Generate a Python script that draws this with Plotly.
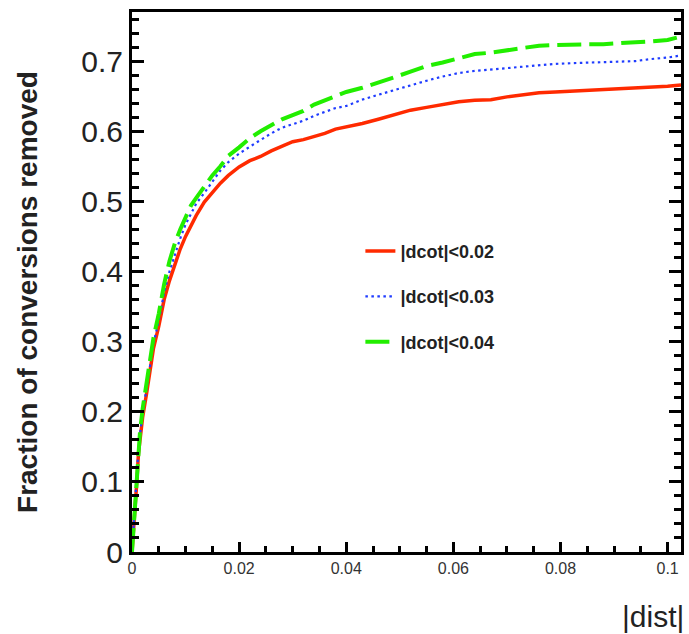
import plotly.graph_objects as go

dist = [0, 0.0003, 0.0006, 0.0009, 0.0012, 0.0015, 0.002, 0.0027, 0.0033, 0.004,
        0.005, 0.006, 0.007, 0.008, 0.009, 0.010, 0.011, 0.012, 0.0135, 0.015,
        0.0165, 0.018, 0.020, 0.022, 0.024, 0.026, 0.028, 0.030, 0.032, 0.034,
        0.036, 0.038, 0.040, 0.043, 0.046, 0.049, 0.052, 0.055, 0.058, 0.061,
        0.064, 0.067, 0.070, 0.073, 0.076, 0.079, 0.082, 0.085, 0.088, 0.091,
        0.094, 0.097, 0.100, 0.1025]

frac_dcot002 = [0, 0.03, 0.075, 0.10, 0.14, 0.163, 0.193, 0.225, 0.259, 0.29,
                0.322, 0.36, 0.387, 0.41, 0.432, 0.45, 0.465, 0.48, 0.499, 0.512,
                0.526, 0.537, 0.549, 0.558, 0.564, 0.572, 0.579, 0.585, 0.588, 0.592,
                0.597, 0.603, 0.606, 0.611, 0.617, 0.624, 0.63, 0.634, 0.638, 0.642,
                0.644, 0.645, 0.649, 0.652, 0.655, 0.656, 0.657, 0.658, 0.659, 0.660,
                0.661, 0.662, 0.664, 0.666]

frac_dcot003 = [0, 0.035, 0.08, 0.105, 0.145, 0.168, 0.2, 0.232, 0.265, 0.297,
                0.33, 0.37, 0.4, 0.425, 0.447, 0.467, 0.483, 0.497, 0.512, 0.528,
                0.544, 0.556, 0.568, 0.578, 0.588, 0.597, 0.605, 0.61, 0.615, 0.622,
                0.628, 0.633, 0.636, 0.645, 0.652, 0.659, 0.665, 0.672, 0.678, 0.683,
                0.686, 0.688, 0.69, 0.692, 0.695, 0.696, 0.697, 0.698, 0.699, 0.70,
                0.70, 0.703, 0.705, 0.708]

frac_dcot004 = [0, 0.037, 0.082, 0.108, 0.148, 0.172, 0.205, 0.238, 0.272, 0.305,
                0.34, 0.382, 0.415, 0.44, 0.46, 0.478, 0.494, 0.505, 0.522, 0.537,
                0.55, 0.565, 0.577, 0.59, 0.6, 0.609, 0.617, 0.623, 0.629, 0.638,
                0.644, 0.651, 0.656, 0.662, 0.669, 0.677, 0.685, 0.693, 0.698, 0.704,
                0.71, 0.712, 0.715, 0.719, 0.722, 0.723, 0.724, 0.724, 0.724, 0.726,
                0.727, 0.728, 0.730, 0.735]

labels = ["|dcot|&lt;0.02", "|dcot|&lt;0.03", "|dcot|&lt;0.04"]
colors = ["#ff2a00", "#1f3cff", "#22ee00"]

FONT = "Liberation Sans, Arial, Helvetica, sans-serif"

fig = go.Figure()
fig.add_trace(go.Scatter(x=dist, y=frac_dcot002, mode="lines", name=labels[0],
                         legendgroup="a",
                         line=dict(color=colors[0], width=3.5)))
fig.add_trace(go.Scatter(x=dist, y=frac_dcot003, mode="lines", name=labels[1],
                         legendgroup="b",
                         line=dict(color=colors[1], width=2.2, dash="2.5px,3.5px")))
fig.add_trace(go.Scatter(x=dist, y=frac_dcot004, mode="lines", name=labels[2],
                         legendgroup="c",
                         line=dict(color=colors[2], width=4, dash="24px,8px")))

fig.update_layout(
    width=689, height=634,
    margin=dict(l=132, r=5, t=12, b=82),
    paper_bgcolor="white", plot_bgcolor="white",
    font=dict(family=FONT, color="black"),
    showlegend=True,
    legend=dict(x=0.416, y=0.591, xanchor="left", yanchor="top",
                bgcolor="rgba(0,0,0,0)", borderwidth=0,
                font=dict(family=FONT, size=18, weight="bold", color="#222"),
                tracegroupgap=19, itemwidth=30),
    xaxis=dict(range=[0, 0.1025], showgrid=False, zeroline=False,
               showline=True, linecolor="black", linewidth=3, mirror=True,
               ticks="inside", ticklen=10, tickwidth=3, tickcolor="black",
               dtick=0.02, tick0=0,
               tickfont=dict(family=FONT, size=16, color="#333"),
               minor=dict(dtick=0.005, ticks="inside", ticklen=6, tickwidth=2.5,
                          tickcolor="black", showgrid=False)),
    yaxis=dict(range=[0, 0.77], showgrid=False, zeroline=False,
               showline=True, linecolor="black", linewidth=3, mirror="ticks",
               ticks="inside", ticklen=12, tickwidth=3, tickcolor="black",
               dtick=0.1, tick0=0, ticklabelstandoff=0,
               tickfont=dict(family=FONT, size=30, color="#222"),
               minor=dict(dtick=0.02, ticks="inside", ticklen=7, tickwidth=2.5,
                          tickcolor="black", showgrid=False)),
    annotations=[
        dict(text="Fraction of conversions removed", xref="paper", yref="paper",
             x=-0.19, y=0.481, xanchor="center", yanchor="middle",
             textangle=-90, showarrow=False,
             font=dict(family=FONT, size=28, weight="bold", color="#222")),
        dict(text="|dist|", xref="paper", yref="paper",
             x=1.009, y=-0.085, xanchor="right", yanchor="top",
             showarrow=False,
             font=dict(family=FONT, size=30, color="#222")),
    ],
)

fig.write_html("out.html")
